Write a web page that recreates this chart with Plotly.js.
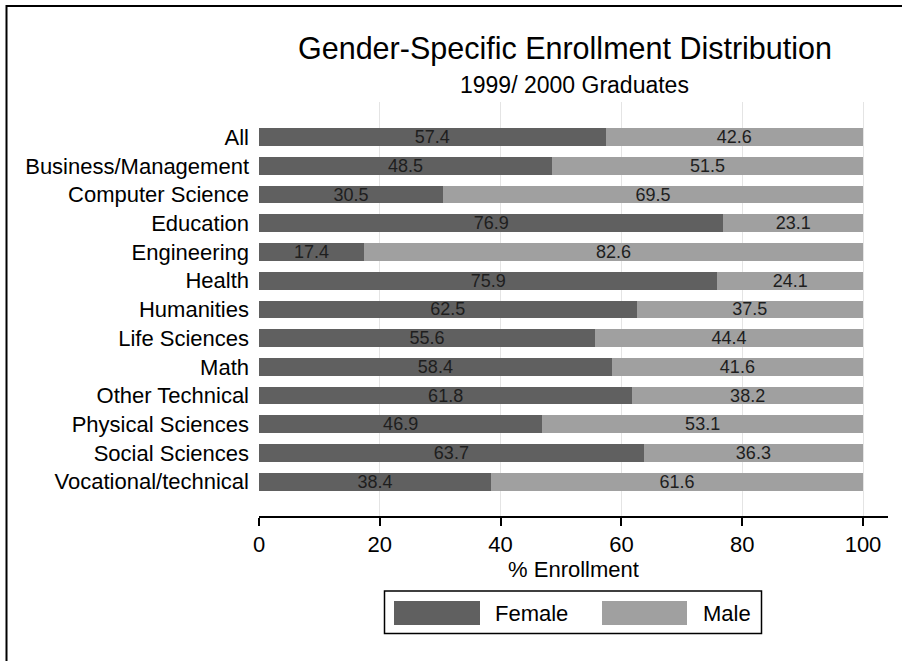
<!DOCTYPE html>
<html>
<head>
<meta charset="utf-8">
<script src="https://cdn.plot.ly/plotly-3.0.1.min.js"></script>
<style>
  html, body { margin: 0; padding: 0; background: #ffffff; }
  #chart { width: 902px; height: 661px; }
</style>
</head>
<body>
<div id="chart"></div>
<script>
// ---- Data ----
const categories = [
  "All", "Business/Management", "Computer Science", "Education", "Engineering",
  "Health", "Humanities", "Life Sciences", "Math", "Other Technical",
  "Physical Sciences", "Social Sciences", "Vocational/technical"
];
const female = [57.4, 48.5, 30.5, 76.9, 17.4, 75.9, 62.5, 55.6, 58.4, 61.8, 46.9, 63.7, 38.4];
const male   = [42.6, 51.5, 69.5, 23.1, 82.6, 24.1, 37.5, 44.4, 41.6, 38.2, 53.1, 36.3, 61.6];
const seriesNames = ["Female", "Male"];
const xTicks = [0, 20, 40, 60, 80, 100];
const titleText = "Gender-Specific Enrollment Distribution";
const subtitleText = "1999/ 2000 Graduates";
const xTitleText = "% Enrollment";

// ---- Layout geometry ----
const W = 902, H = 661;
const M = { l: 259, r: 14, t: 102, b: 145 };
const plotW = W - M.l - M.r, plotH = H - M.t - M.b;
const px2x = px => (px - M.l) / plotW;
const px2y = py => (H - M.b - py) / plotH;

const colFemale = "#606060";
const colMale = "#a0a0a0";
const FONT = "Liberation Sans, Arial, Helvetica, sans-serif";

function barTrace(name, vals, color) {
  return {
    type: "bar", orientation: "h", name: name,
    y: categories, x: vals,
    text: vals.map(v => v.toFixed(1)),
    textposition: "inside", insidetextanchor: "middle", textangle: 0,
    constraintext: "none",
    textfont: { family: FONT, size: 18, color: "#1e1e1e" },
    marker: { color: color, line: { width: 0 } },
    hoverinfo: "skip"
  };
}
const traces = [
  barTrace(seriesNames[0], female, colFemale),
  barTrace(seriesNames[1], male, colMale)
];

const shapes = [
  // outer border
  { type: "rect", xref: "paper", yref: "paper",
    x0: px2x(6.5), x1: px2x(906), y0: px2y(666), y1: px2y(6),
    line: { color: "#000", width: 2 }, fillcolor: "rgba(0,0,0,0)" },
  // legend box
  { type: "rect", xref: "paper", yref: "paper",
    x0: px2x(384.5), x1: px2x(761.5), y0: px2y(633.5), y1: px2y(591),
    line: { color: "#000", width: 1.5 }, fillcolor: "#fff" },
  // legend swatches
  { type: "rect", xref: "paper", yref: "paper",
    x0: px2x(394), x1: px2x(480), y0: px2y(625), y1: px2y(601),
    line: { width: 0 }, fillcolor: colFemale },
  { type: "rect", xref: "paper", yref: "paper",
    x0: px2x(602), x1: px2x(687), y0: px2y(625), y1: px2y(601),
    line: { width: 0 }, fillcolor: colMale }
];

const annotations = [
  { xref: "paper", yref: "paper", x: px2x(565), y: px2y(48),
    text: titleText, showarrow: false, xanchor: "center", yanchor: "middle",
    font: { family: FONT, size: 30.5, color: "#000" } },
  { xref: "paper", yref: "paper", x: px2x(574), y: px2y(85),
    text: subtitleText, showarrow: false, xanchor: "center", yanchor: "middle",
    font: { family: FONT, size: 23, color: "#000" } },
  { xref: "paper", yref: "paper", x: px2x(493), y: px2y(613),
    text: seriesNames[0], showarrow: false, xanchor: "left", yanchor: "middle",
    font: { family: FONT, size: 22, color: "#000" } },
  { xref: "paper", yref: "paper", x: px2x(701), y: px2y(613),
    text: seriesNames[1], showarrow: false, xanchor: "left", yanchor: "middle",
    font: { family: FONT, size: 22, color: "#000" } }
];

const layout = {
  width: W, height: H,
  margin: M,
  paper_bgcolor: "#fff", plot_bgcolor: "#fff",
  barmode: "stack",
  bargap: 0.384,
  showlegend: false,
  font: { family: FONT, color: "#000" },
  xaxis: {
    range: [0, 100 * plotW / 604],
    tickvals: xTicks, ticktext: xTicks.map(String),
    showgrid: true, gridcolor: "#e4e4e4", gridwidth: 1,
    zeroline: false,
    showline: true, linecolor: "#000", linewidth: 2,
    ticks: "outside", ticklen: 8, tickwidth: 2, tickcolor: "#000",
    tickfont: { family: FONT, size: 22, color: "#000" },
    title: { text: xTitleText, font: { family: FONT, size: 22, color: "#000" }, standoff: 3 },
    fixedrange: true
  },
  yaxis: {
    type: "category",
    categoryorder: "array", categoryarray: categories,
    range: [13.195, -1.226],
    showgrid: false, zeroline: false, showline: false,
    ticks: "", ticklabelstandoff: 9,
    tickfont: { family: FONT, size: 22, color: "#000" },
    fixedrange: true
  },
  shapes: shapes,
  annotations: annotations
};

Plotly.newPlot("chart", traces, layout, { staticPlot: true, displayModeBar: false });
</script>
</body>
</html>
